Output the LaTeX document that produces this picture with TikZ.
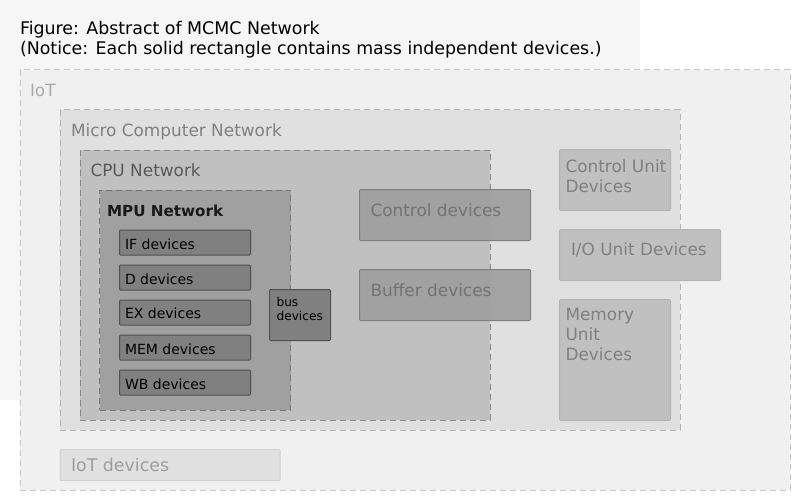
\documentclass[tikz,border=0pt]{standalone}
\usepackage{fontspec}
\setmainfont{DejaVu Sans}
\begin{document}
\begin{tikzpicture}[x=1pt,y=-1pt,
  every node/.style={inner sep=0pt,outer sep=0pt},
  area/.style={draw,dash pattern=on 6pt off 4pt,line width=1pt,anchor=north west},
  dev/.style={draw,line width=1pt,anchor=north west,rounded corners=1pt},
  lbl/.style={anchor=base west,font=\fontsize{16.9}{20}\selectfont},
  small/.style={anchor=base west,font=\fontsize{14}{16}\selectfont,text=black},
]
\definecolor{bg}{HTML}{F6F6F6}
\definecolor{iotf}{HTML}{F0F0F0}\definecolor{iotd}{HTML}{C8C8C8}
\definecolor{mcf}{HTML}{E0E0E0}\definecolor{mcd}{HTML}{B4B4B4}
\definecolor{cpuf}{HTML}{C0C0C0}\definecolor{cpud}{HTML}{888888}
\definecolor{mpuf}{HTML}{A0A0A0}\definecolor{mpud}{HTML}{777777}
\definecolor{devf}{HTML}{808080}\definecolor{devd}{HTML}{505050}
\useasboundingbox (0,0) rectangle (800,500);
\fill[white] (0,0) rectangle (800,500);
\fill[bg] (0,0) rectangle (640,400);
% title
\node[anchor=base west,font=\fontsize{17.4}{20}\selectfont] (title) at (20,34.3) {Figure: Abstract of MCMC Network};
\node[anchor=base west,font=\fontsize{17.4}{20}\selectfont] (notice) at (20,54.3) {(Notice: Each solid rectangle contains mass independent devices.)};
% IoT
\node[area,fill=iotf,draw=iotd,minimum width=770pt,minimum height=420pt] (iot) at (20,70) {};
\node[lbl,text=iotd!85!black] (iotl) at (30,96.7) {IoT};
% Micro computer network
\node[area,fill=mcf,draw=mcd,minimum width=620pt,minimum height=320pt] (mc) at (60,110) {};
\node[lbl,text=devf] (mcl) at (71,136) {Micro Computer Network};
% CPU network
\node[area,fill=cpuf,draw=cpud,minimum width=410pt,minimum height=270pt] (cpu) at (80,150) {};
\node[lbl,text=black!65] (cpul) at (90.5,176) {CPU Network};
% MPU network
\node[area,fill=mpuf,draw=mpud,minimum width=191pt,minimum height=220pt] (mpu) at (99.5,190) {};
\node[lbl,text=black!90,font=\fontsize{15.2}{20}\selectfont\bfseries] (mpul) at (107,216) {MPU Network};
% stage devices
\node[dev,fill=devf,draw=devd,minimum width=131pt,minimum height=25pt] (if) at (119.5,230) {};
\node[small] at (125,249) {IF devices};
\node[dev,fill=devf,draw=devd,minimum width=131pt,minimum height=25pt] (d) at (119.5,265) {};
\node[small] at (125,284) {D devices};
\node[dev,fill=devf,draw=devd,minimum width=131pt,minimum height=25pt] (ex) at (119.5,300) {};
\node[small] at (125,318.5) {EX devices};
\node[dev,fill=devf,draw=devd,minimum width=131pt,minimum height=25pt] (mem) at (119.5,335) {};
\node[small] at (125,354) {MEM devices};
\node[dev,fill=devf,draw=devd,minimum width=131pt,minimum height=25pt] (wb) at (119.5,370) {};
\node[small] at (125,389) {WB devices};
% bus devices
\node[dev,fill=devf,draw=devd,minimum width=61pt,minimum height=51pt] (bus) at (269.5,289.5) {};
\node[anchor=base west,font=\fontsize{12.2}{13.5}\selectfont,text=black] at (276.5,306.5) {bus};
\node[anchor=base west,font=\fontsize{12.2}{13.5}\selectfont,text=black] at (276.5,320) {devices};
% control / buffer devices
\node[dev,fill=mpuf,draw=devf,fill opacity=0.95,minimum width=171pt,minimum height=51pt] (ctl) at (359.5,189.5) {};
\node[lbl,text=black!55] at (370.5,216.5) {Control devices};
\node[dev,fill=mpuf,draw=devf,fill opacity=0.95,minimum width=171pt,minimum height=51pt] (buf) at (359.5,269.5) {};
\node[lbl,text=black!55] at (370.5,296.5) {Buffer devices};
% unit devices
\node[dev,fill=cpuf,draw=mcd,minimum width=111pt,minimum height=61pt] (cu) at (559.5,149.5) {};
\node[lbl,text=devf] at (565.5,172.3) {Control Unit};
\node[lbl,text=devf] at (565.5,192.3) {Devices};
\node[dev,fill=cpuf,draw=mcd,minimum width=161pt,minimum height=51pt] (io) at (559.5,229.5) {};
\node[lbl,text=devf] at (571,255.7) {I/O Unit Devices};
\node[dev,fill=cpuf,draw=mcd,minimum width=111pt,minimum height=121pt] (mu) at (559.5,299.5) {};
\node[lbl,text=devf] at (565.5,320) {Memory};
\node[lbl,text=devf] at (565.5,340) {Unit};
\node[lbl,text=devf] at (565.5,360.5) {Devices};
% IoT devices
\node[dev,fill=mcf,draw=black!18,minimum width=220pt,minimum height=31pt] (iotd) at (60,449.5) {};
\node[lbl,text=black!38,font=\fontsize{17.4}{20}\selectfont] at (71,471) {IoT devices};
\end{tikzpicture}
\end{document}
